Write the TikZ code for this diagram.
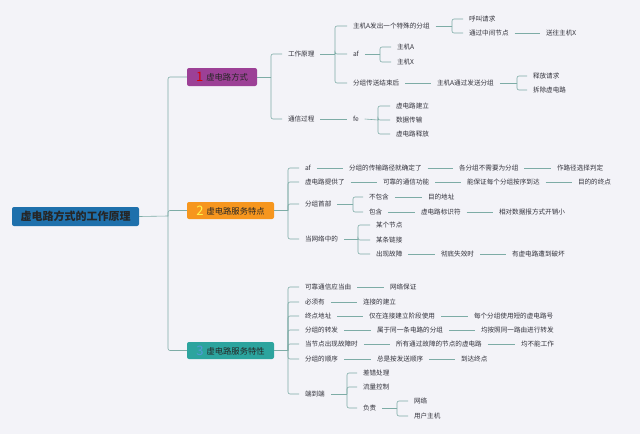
\documentclass[tikz,border=0pt]{standalone}
\usepackage{fontspec}
\setmainfont{Noto Sans CJK SC}
\definecolor{nen}{RGB}{243,243,248}
\definecolor{duong}{RGB}{125,172,166}
\definecolor{chu}{RGB}{51,51,60}
\definecolor{xanh}{RGB}{30,112,172}
\definecolor{tim}{RGB}{156,64,150}
\definecolor{cam}{RGB}{246,150,30}
\definecolor{ngoc}{RGB}{44,164,158}
\tikzset{
  root/.style={draw=none, fill=xanh, rounded corners=2pt, minimum width=127pt,
    minimum height=19pt, inner sep=0pt, font=\fontsize{11}{11}\selectfont\bfseries, text=black!85},
  branch/.style={draw=none, rounded corners=2pt, minimum height=18pt, inner sep=0pt,
    font=\fontsize{8.3}{9}\selectfont, text=black!85},
  leaf/.style={anchor=west, inner xsep=0pt, inner ysep=1pt, outer xsep=6pt, xshift=-6pt,
    text height=5pt, text depth=0pt, font=\fontsize{6.6}{7}\selectfont, text=chu},
  conn/.style={draw=duong, line width=0.6pt, rounded corners=2pt},
  so/.style={font=\fontsize{13}{13}\selectfont\bfseries},
}
\begin{document}
\begin{tikzpicture}[x=1pt, y=-1pt]
    % nen
    \fill[nen] (0,0) rectangle (640,434);
    \useasboundingbox (0,0) rectangle (640,434);
    % goc va ba nhanh
    \node[root] (root) at (75.5,216.5) {虚电路方式的工作原理};
    \node[branch, fill=tim, minimum width=70pt] (b1) at (222,77)
        {\raisebox{-1pt}{\textcolor{red!85!black}{\fontsize{13}{13}\selectfont 1}}\hspace{3pt}虚电路方式};
    \node[branch, fill=cam, minimum width=87pt, minimum height=17pt] (b2) at (230.5,210.5)
        {\raisebox{-1pt}{\textcolor{yellow!70}{\fontsize{13}{13}\selectfont 2}}\hspace{3pt}虚电路服务特点};
    \node[branch, fill=ngoc, minimum width=87pt, minimum height=17pt] (b3) at (230.5,350.5)
        {\raisebox{-1pt}{\textcolor{cyan!60!blue!70}{\fontsize{13}{13}\selectfont 3}}\hspace{3pt}虚电路服务特性};
    \coordinate (t) at (168,216);
    \draw[conn] (root.east) -- (t);
    \foreach \b in {b1,b2,b3} {
        \draw[conn] (t) |- (\b.west);
    }

    % nhanh 1
    \node[leaf] (a1) at (288,54) {工作原理};
    \node[leaf] (a2) at (288,119) {通信过程};
    \coordinate (j1) at (271,77);
    \draw[conn] (b1.east) -- (j1);
    \foreach \c in {a1,a2} { \draw[conn] (j1) |- (\c.west); }

    \node[leaf] (c1) at (353,26) {主机A发出一个特殊的分组};
    \node[leaf] (c2) at (353,54) {af};
    \node[leaf] (c3) at (353,83) {分组传送结束后};
    \coordinate (j2) at (335,54);
    \draw[conn] (a1.east) -- (j2);
    \foreach \c in {c1,c2,c3} { \draw[conn] (j2) |- (\c.west); }

    \node[leaf] (d1) at (469,19) {呼叫请求};
    \node[leaf] (d2) at (469,33) {通过中间节点};
    \node[leaf] (d3) at (546,33) {送往主机X};
    \coordinate (j3) at (452,26);
    \draw[conn] (c1.east) -- (j3);
    \foreach \c in {d1,d2} { \draw[conn] (j3) |- (\c.west); }
    \draw[conn] (d2.east) -- (d3.west);

    \node[leaf] (d4) at (397,47) {主机A};
    \node[leaf] (d5) at (397,62) {主机X};
    \coordinate (j4) at (380,54);
    \draw[conn] (c2.east) -- (j4);
    \foreach \c in {d4,d5} { \draw[conn] (j4) |- (\c.west); }

    \node[leaf] (d6) at (437,83) {主机A通过发送分组};
    \node[leaf] (d7) at (533,76) {释放请求};
    \node[leaf] (d8) at (533,90) {拆除虚电路};
    \draw[conn] (c3.east) -- (d6.west);
    \coordinate (j5) at (517,83);
    \draw[conn] (d6.east) -- (j5);
    \foreach \c in {d7,d8} { \draw[conn] (j5) |- (\c.west); }

    \node[leaf] (c4) at (353,119) {fe};
    \draw[conn] (a2.east) -- (c4.west);
    \node[leaf] (d9) at (396,106) {虚电路建立};
    \node[leaf] (d10) at (396,120) {数据传输};
    \node[leaf] (d11) at (396,134) {虚电路释放};
    \coordinate (j6) at (378,120);
    \draw[conn] (c4.east) -- (j6);
    \foreach \c in {d9,d10,d11} { \draw[conn] (j6) |- (\c.west); }

    % nhanh 2
    \node[leaf] (e1) at (305,168) {af};
    \node[leaf] (e2) at (305,182) {虚电路提供了};
    \node[leaf] (e3) at (305,204) {分组首部};
    \node[leaf] (e4) at (305,239) {当网络中的};
    \coordinate (k1) at (288,210.5);
    \draw[conn] (b2.east) -- (k1);
    \foreach \c in {e1,e2,e3,e4} { \draw[conn] (k1) |- (\c.west); }

    \node[leaf] (f1) at (349,168) {分组的传输路径就确定了};
    \node[leaf] (f2) at (459,168) {各分组不需要为分组};
    \node[leaf] (f3) at (557,168) {作路径选择判定};
    \draw[conn] (e1.east) -- (f1.west);
    \draw[conn] (f1.east) -- (f2.west);
    \draw[conn] (f2.east) -- (f3.west);

    \node[leaf] (f4) at (383,182) {可靠的通信功能};
    \node[leaf] (f5) at (467,182) {能保证每个分组按序到达};
    \node[leaf] (f6) at (578,182) {目的的终点};
    \draw[conn] (e2.east) -- (f4.west);
    \draw[conn] (f4.east) -- (f5.west);
    \draw[conn] (f5.east) -- (f6.west);

    \node[leaf] (f7) at (369,197) {不包含};
    \node[leaf] (f8) at (369,212) {包含};
    \coordinate (k2) at (353,204);
    \draw[conn] (e3.east) -- (k2);
    \foreach \c in {f7,f8} { \draw[conn] (k2) |- (\c.west); }
    \node[leaf] (f9) at (428,197) {目的地址};
    \draw[conn] (f7.east) -- (f9.west);
    \node[leaf] (f10) at (421,212) {虚电路标识符};
    \node[leaf] (f11) at (499,212) {相对数据报方式开销小};
    \draw[conn] (f8.east) -- (f10.west);
    \draw[conn] (f10.east) -- (f11.west);

    \node[leaf] (f12) at (376,225) {某个节点};
    \node[leaf] (f13) at (376,240) {某条链接};
    \node[leaf] (f14) at (376,254) {出现故障};
    \coordinate (k3) at (358,239);
    \draw[conn] (e4.east) -- (k3);
    \foreach \c in {f12,f13,f14} { \draw[conn] (k3) |- (\c.west); }
    \node[leaf] (f15) at (441,254) {彻底失效时};
    \node[leaf] (f16) at (512,254) {有虚电路遭到破坏};
    \draw[conn] (f14.east) -- (f15.west);
    \draw[conn] (f15.east) -- (f16.west);

    % nhanh 3
    \node[leaf] (g1) at (305,287) {可靠通信应当由};
    \node[leaf] (g2) at (305,302) {必须有};
    \node[leaf] (g3) at (305,316) {终点地址};
    \node[leaf] (g4) at (305,330) {分组的转发};
    \node[leaf] (g5) at (305,344) {当节点出现故障时};
    \node[leaf] (g6) at (305,359) {分组的顺序};
    \node[leaf] (g7) at (305,394) {端到端};
    \coordinate (m1) at (288,350.5);
    \draw[conn] (b3.east) -- (m1);
    \foreach \c in {g1,g2,g3,g4,g5,g6,g7} { \draw[conn] (m1) |- (\c.west); }

    \node[leaf] (h1) at (390,287) {网络保证};
    \draw[conn] (g1.east) -- (h1.west);
    \node[leaf] (h2) at (363,302) {连接的建立};
    \draw[conn] (g2.east) -- (h2.west);
    \node[leaf] (h3) at (369,316) {仅在连接建立阶段使用};
    \node[leaf] (h4) at (474,316) {每个分组使用短的虚电路号};
    \draw[conn] (g3.east) -- (h3.west);
    \draw[conn] (h3.east) -- (h4.west);
    \node[leaf] (h5) at (377,330) {属于同一条电路的分组};
    \node[leaf] (h6) at (481,330) {均按照同一路由进行转发};
    \draw[conn] (g4.east) -- (h5.west);
    \draw[conn] (h5.east) -- (h6.west);
    \node[leaf] (h7) at (396,344) {所有通过故障的节点的虚电路};
    \node[leaf] (h8) at (521,344) {均不能工作};
    \draw[conn] (g5.east) -- (h7.west);
    \draw[conn] (h7.east) -- (h8.west);
    \node[leaf] (h9) at (377,359) {总是按发送顺序};
    \node[leaf] (h10) at (461,359) {到达终点};
    \draw[conn] (g6.east) -- (h9.west);
    \draw[conn] (h9.east) -- (h10.west);

    \node[leaf] (h11) at (363,373) {差错处理};
    \node[leaf] (h12) at (363,387) {流量控制};
    \node[leaf] (h13) at (363,408) {负责};
    \coordinate (m2) at (347,394);
    \draw[conn] (g7.east) -- (m2);
    \foreach \c in {h11,h12,h13} { \draw[conn] (m2) |- (\c.west); }
    \node[leaf] (h14) at (414,401) {网络};
    \node[leaf] (h15) at (414,416) {用户主机};
    \coordinate (m3) at (397,408);
    \draw[conn] (h13.east) -- (m3);
    \foreach \c in {h14,h15} { \draw[conn] (m3) |- (\c.west); }
\end{tikzpicture}
\end{document}
